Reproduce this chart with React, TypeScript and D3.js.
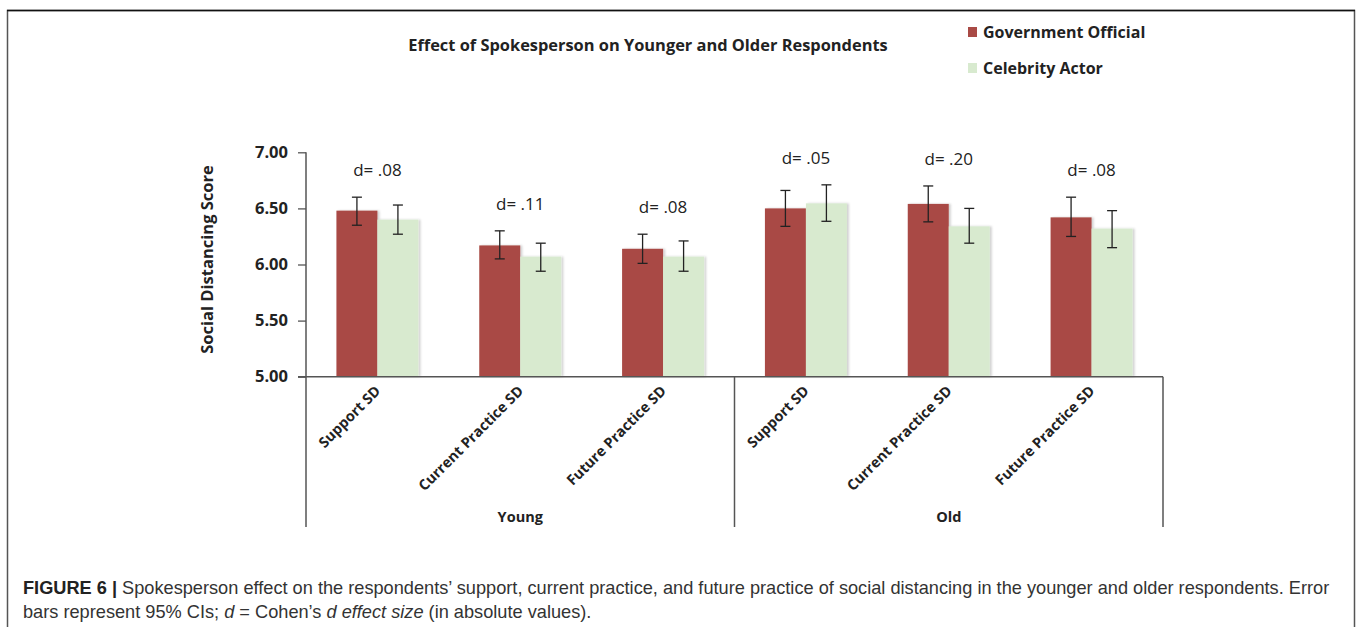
import React, { useRef, useEffect } from "react";
import * as d3 from "d3";

// chart values
const groups = ["Young", "Old"];
const measures = ["Support SD", "Current Practice SD", "Future Practice SD"];
const series = ["Government Official", "Celebrity Actor"];
const govMeans = [6.48, 6.17, 6.14, 6.5, 6.54, 6.42];
const govLow = [6.35, 6.05, 6.01, 6.34, 6.38, 6.25];
const govHigh = [6.6, 6.3, 6.27, 6.66, 6.7, 6.6];
const celMeans = [6.4, 6.07, 6.07, 6.545, 6.34, 6.32];
const celLow = [6.27, 5.94, 5.94, 6.385, 6.19, 6.15];
const celHigh = [6.53, 6.19, 6.21, 6.71, 6.5, 6.48];
const effectLabels = ["d= .08", "d= .11", "d= .08", "d= .05", "d= .20", "d= .08"];
const yTicks = [5, 5.5, 6, 6.5, 7];
const colors = ["#a94a45", "#d8eacf"];

const W = 1357;
const H = 627;
const chartFont = "'Open Sans', sans-serif";
const captionFont = "'Liberation Sans', Arial, sans-serif";

function SpokespersonChart() {
  const ref = useRef(null);

  useEffect(() => {
    document.body.style.margin = "0";
    const svg = d3.select(ref.current);
    svg.selectAll("*").remove();

    // shadow behind bars, like the Excel default
    const defs = svg.append("defs");
    const f = defs.append("filter").attr("id", "barShadow").attr("x", "-10%").attr("y", "-10%").attr("width", "130%").attr("height", "120%");
    f.append("feDropShadow").attr("dx", 2).attr("dy", 0).attr("stdDeviation", 1).attr("flood-color", "#000").attr("flood-opacity", 0.18);

    // outer frame (bottom cut off by the page)
    svg.append("path")
      .attr("d", `M7.5,${H + 5} V10.5 H1354.5 V${H + 5}`)
      .attr("fill", "none").attr("stroke", "#555").attr("stroke-width", 1.5);
    svg.append("line").attr("x1", 7).attr("x2", 1355).attr("y1", 10.5).attr("y2", 10.5).attr("stroke", "#111").attr("stroke-width", 1.5);

    const cats = groups.flatMap((g) => measures.map((m) => `${g}|${m}`));
    const x = d3.scaleBand().domain(cats).range([306, 1163]).padding(0);
    const bw = x.bandwidth();
    const x1 = d3.scaleBand().domain(series).range([bw / 2 - 41, bw / 2 + 41]).padding(0);
    const y = d3.scaleLinear().domain([5, 7]).range([376.7, 152.3]);

    const rows = cats.map((c, i) => ({
      key: c,
      vals: [
        { s: series[0], m: govMeans[i], lo: govLow[i], hi: govHigh[i] },
        { s: series[1], m: celMeans[i], lo: celLow[i], hi: celHigh[i] },
      ],
      d: effectLabels[i],
    }));

    // bars
    const g = svg.append("g");
    const cat = g.selectAll(".cat").data(rows).enter().append("g")
      .attr("transform", (d) => `translate(${x(d.key)},0)`);
    cat.selectAll("rect").data((d) => d.vals).enter().append("rect")
      .attr("x", (d) => x1(d.s))
      .attr("width", x1.bandwidth())
      .attr("y", (d) => y(d.m))
      .attr("height", (d) => y(5) - y(d.m))
      .attr("fill", (d, i) => colors[i])
      .attr("filter", "url(#barShadow)");

    // error bars
    const eb = cat.selectAll(".eb").data((d) => d.vals).enter().append("g");
    eb.append("line")
      .attr("x1", (d) => x1(d.s) + x1.bandwidth() / 2)
      .attr("x2", (d) => x1(d.s) + x1.bandwidth() / 2)
      .attr("y1", (d) => y(d.lo)).attr("y2", (d) => y(d.hi));
    eb.append("line")
      .attr("x1", (d) => x1(d.s) + x1.bandwidth() / 2 - 5)
      .attr("x2", (d) => x1(d.s) + x1.bandwidth() / 2 + 5)
      .attr("y1", (d) => y(d.hi)).attr("y2", (d) => y(d.hi));
    eb.append("line")
      .attr("x1", (d) => x1(d.s) + x1.bandwidth() / 2 - 5)
      .attr("x2", (d) => x1(d.s) + x1.bandwidth() / 2 + 5)
      .attr("y1", (d) => y(d.lo)).attr("y2", (d) => y(d.lo));
    eb.selectAll("line").attr("stroke", "#222").attr("stroke-width", 1.3);

    // effect size labels above the higher CI
    cat.append("text")
      .attr("x", bw / 2)
      .attr("y", (d) => y(d3.max(d.vals, (v) => v.hi)) - 21)
      .attr("text-anchor", "middle")
      .style("font-family", chartFont)
      .style("font-size", "17px")
      .style("fill", "#222")
      .text((d) => d.d);

    // y axis
    const yAxis = svg.append("g").attr("transform", "translate(306,0)")
      .call(d3.axisLeft(y).tickValues(yTicks).tickFormat(d3.format(".2f")).tickSize(8).tickPadding(10));
    yAxis.select(".domain").remove();
    yAxis.selectAll(".tick line").attr("stroke", "#555").attr("stroke-width", 1.3);
    yAxis.selectAll("text")
      .style("font-family", chartFont).style("font-size", "16.5px").style("font-weight", "bold").style("fill", "#222");
    svg.append("line").attr("x1", 306).attr("x2", 306).attr("y1", y(7)).attr("y2", 527)
      .attr("stroke", "#555").attr("stroke-width", 1.5);

    // baseline and group dividers
    svg.append("line").attr("x1", 298).attr("x2", 1163).attr("y1", y(5)).attr("y2", y(5))
      .attr("stroke", "#555").attr("stroke-width", 1.5);
    groups.forEach((gr) => {
      const right = x(`${gr}|${measures[measures.length - 1]}`) + bw;
      const left = x(`${gr}|${measures[0]}`);
      svg.append("line").attr("x1", right).attr("x2", right).attr("y1", y(5)).attr("y2", 527)
        .attr("stroke", "#555").attr("stroke-width", 1.5);
      svg.append("text")
        .attr("x", (left + right) / 2).attr("y", 522)
        .attr("text-anchor", "middle")
        .style("font-family", chartFont).style("font-size", "14.5px").style("font-weight", "bold").style("fill", "#222")
        .text(gr);
    });

    // rotated category labels
    cat.append("text")
      .attr("transform", `translate(${bw / 2 + 4},392) rotate(-45)`)
      .attr("text-anchor", "end")
      .style("font-family", chartFont).style("font-size", "14.5px").style("font-weight", "bold").style("fill", "#222")
      .text((d) => d.key.split("|")[1]);

    // y title
    svg.append("text")
      .attr("transform", `translate(213,${(y(5) + y(7)) / 2 - 5}) rotate(-90)`)
      .attr("text-anchor", "middle")
      .style("font-family", chartFont).style("font-size", "16.5px").style("font-weight", "bold").style("fill", "#222")
      .text("Social Distancing Score");

    // title
    svg.append("text")
      .attr("x", 648).attr("y", 51)
      .attr("text-anchor", "middle")
      .style("font-family", chartFont).style("font-size", "16.4px").style("font-weight", "bold").style("fill", "#222")
      .text("Effect of Spokesperson on Younger and Older Respondents");

    // legend
    const leg = svg.append("g").selectAll("g").data(series).enter().append("g")
      .attr("transform", (d, i) => `translate(968,${27 + i * 36})`);
    leg.append("rect").attr("width", 9).attr("height", 10).attr("fill", (d, i) => colors[i]);
    leg.append("text").attr("x", 15).attr("y", 10.5)
      .style("font-family", chartFont).style("font-size", "16px").style("font-weight", "bold").style("fill", "#222")
      .text((d) => d);

    // caption
    const cap1 = svg.append("text").attr("x", 23).attr("y", 594)
      .style("font-family", captionFont).style("font-size", "18.2px").style("fill", "#333");
    cap1.append("tspan").style("font-weight", "bold").style("fill", "#222").text("FIGURE 6 | ");
    cap1.append("tspan").text("Spokesperson effect on the respondents\u2019 support, current practice, and future practice of social distancing in the younger and older respondents. Error");
    const cap2 = svg.append("text").attr("x", 23).attr("y", 618)
      .style("font-family", captionFont).style("font-size", "18.2px").style("fill", "#333");
    cap2.append("tspan").text("bars represent 95% CIs; ");
    cap2.append("tspan").style("font-style", "italic").text("d");
    cap2.append("tspan").text(" = Cohen\u2019s ");
    cap2.append("tspan").style("font-style", "italic").text("d effect size");
    cap2.append("tspan").text(" (in absolute values).");
  }, []);

  return <svg ref={ref} width={W} height={H} style={{ display: "block", background: "#fff" }}></svg>;
}

export default function App() {
  return <SpokespersonChart />;
}
